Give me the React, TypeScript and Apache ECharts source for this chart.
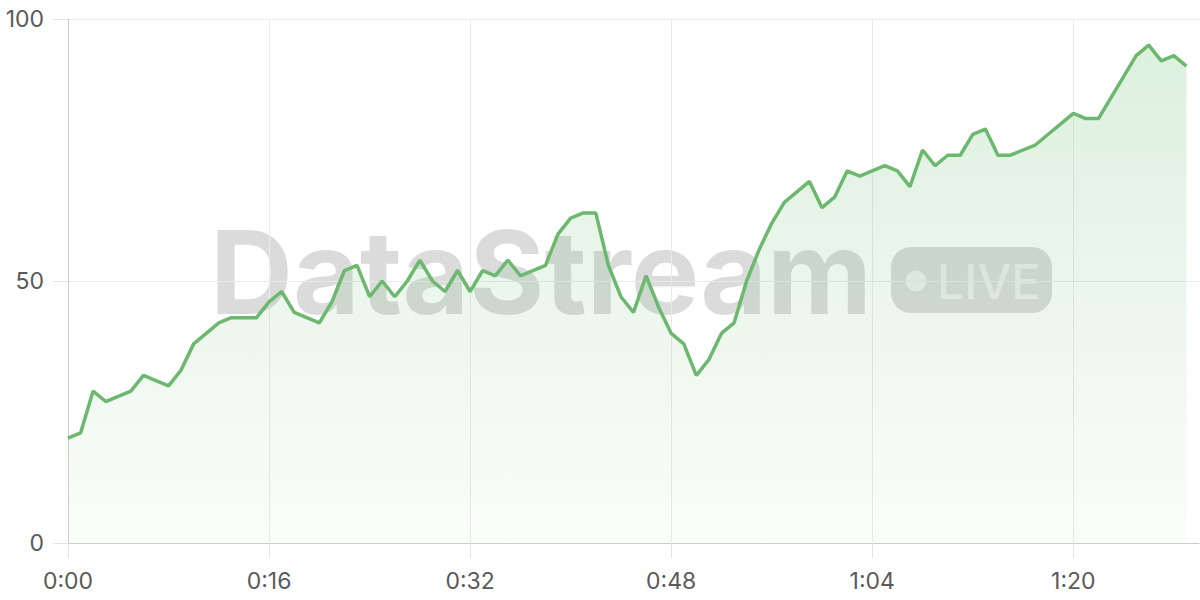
import React, { useEffect, useRef } from "react";
import * as echarts from "echarts";

// Elapsed seconds (one sample per second) and sampled values
const values: number[] = [
  20, 21, 29, 27, 28, 29, 32, 31, 30, 33,
  38, 40, 42, 43, 43, 43, 46, 48, 44, 43,
  42, 46, 52, 53, 47, 50, 47, 50, 54, 50,
  48, 52, 48, 52, 51, 54, 51, 52, 53, 59,
  62, 63, 63, 53, 47, 44, 51, 45, 40, 38,
  32, 35, 40, 42, 50, 56, 61, 65, 67, 69,
  64, 66, 71, 70, 71, 72, 71, 68, 75, 72,
  74, 74, 78, 79, 74, 74, 75, 76, 78, 80,
  82, 81, 81, 85, 89, 93, 95, 92, 93, 91,
];
const totalSeconds = 90; // axis spans 0:00 .. 1:30
const labelStep = 16; // a label every 16 s
const yTicks = [0, 50, 100];

const fmt = (s: number) => `${Math.floor(s / 60)}:${String(s % 60).padStart(2, "0")}`;
const categories: string[] = Array.from({ length: totalSeconds + 1 }, (_, i) => fmt(i));

export default function App() {
  const ref = useRef<HTMLDivElement>(null);
  useEffect(() => {
    if (!ref.current) return;
    const chart = echarts.init(ref.current, undefined, { renderer: "svg" });
    const every = (i: number) => i % labelStep === 0;
    const font = "Inter, 'Noto Sans', sans-serif";
    chart.setOption({
      animation: false,
      grid: { left: 68, right: 1, top: 19, bottom: 57, containLabel: false },
      xAxis: {
        type: "category",
        data: categories,
        boundaryGap: false,
        axisLine: { show: true, lineStyle: { color: "#cccccc", width: 1 } },
        axisTick: { show: true, length: 15, interval: every, lineStyle: { color: "#e4e4e4" } },
        axisLabel: { interval: every, margin: 26, fontSize: 23, color: "#5a5a5a", fontFamily: font },
        splitLine: { show: true, interval: every, lineStyle: { color: "#eaeaea", width: 1 } },
      },
      yAxis: {
        type: "value",
        min: yTicks[0],
        max: yTicks[yTicks.length - 1],
        interval: yTicks[1] - yTicks[0],
        axisLine: { show: true, lineStyle: { color: "#cccccc", width: 1 } },
        axisTick: { show: true, length: 15, lineStyle: { color: "#e4e4e4" } },
        axisLabel: { margin: 24, fontSize: 23, color: "#5a5a5a", fontFamily: font },
        splitLine: { show: true, lineStyle: { color: "#eaeaea", width: 1 } },
      },
      graphic: [
        {
          type: "text",
          x: 541,
          y: 272,
          z: 0,
          style: {
            text: "DataStream",
            fontSize: 115,
            fontWeight: 700,
            fontFamily: font,
            fill: "rgba(0,0,0,0.14)",
            align: "center",
            verticalAlign: "middle",
          },
        },
        {
          type: "rect",
          z: 0,
          shape: { x: 891, y: 247, width: 161, height: 66, r: 20 },
          style: { fill: "rgba(0,0,0,0.14)" },
        },
        {
          type: "circle",
          z: 0,
          shape: { cx: 916, cy: 281, r: 10.5 },
          style: { fill: "rgba(255,255,255,0.55)" },
        },
        {
          type: "text",
          x: 937,
          y: 281,
          z: 0,
          style: {
            text: "LIVE",
            fontSize: 48,
            fontWeight: 500,
            fontFamily: font,
            fill: "rgba(255,255,255,0.55)",
            align: "left",
            verticalAlign: "middle",
          },
        },
      ],
      series: [
        {
          type: "line",
          data: values,
          showSymbol: false,
          symbol: "none",
          lineStyle: { color: "#6cb86f", width: 3.5 },
          areaStyle: {
            color: new echarts.graphic.LinearGradient(0, 0, 0, 1, [
              { offset: 0, color: "rgba(102,187,106,0.32)" },
              { offset: 1, color: "rgba(102,187,106,0.04)" },
            ]),
          },
          z: 2,
        },
      ],
    });
    return () => chart.dispose();
  }, []);
  return <div ref={ref} style={{ width: 1200, height: 600, position: "absolute", left: 0, top: 0 }} />;
}
